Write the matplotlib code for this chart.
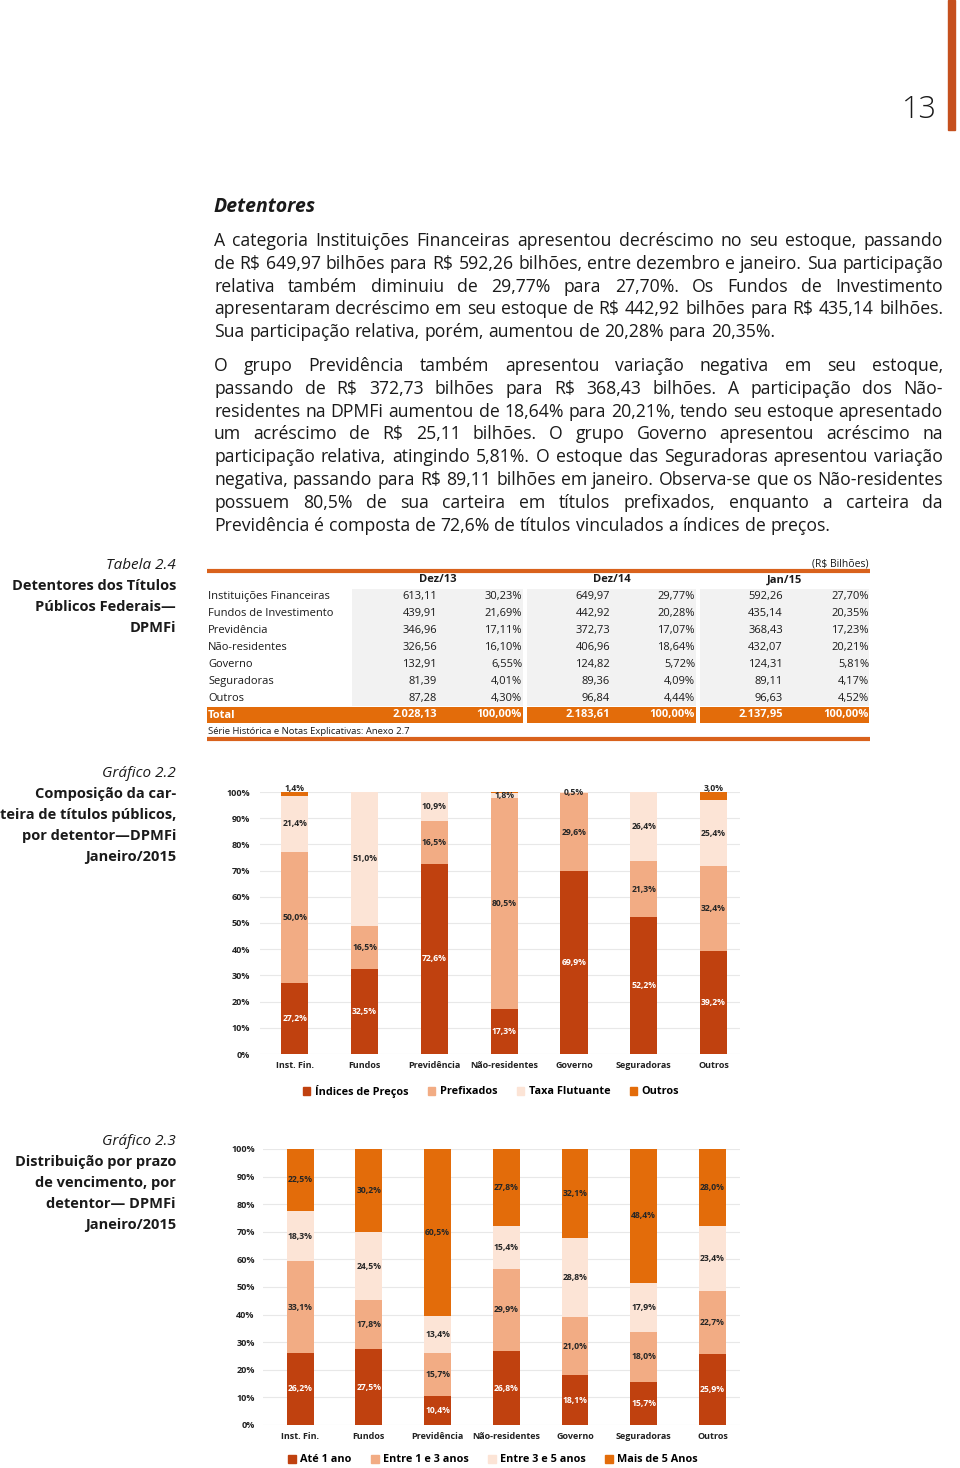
import matplotlib
matplotlib.use('Agg')
import matplotlib.pyplot as plt
import numpy as np
from matplotlib.patches import Rectangle

plt.rcParams['font.family'] = ['Open Sans', 'DejaVu Sans']

TXT = '#1a1a1a'
C_IDX = '#C0410F'
C_PRE = '#F2AC84'
C_FLU = '#FCE4D6'
C_OUT = '#E36C0A'

# ---- texto
par1 = [
    "A categoria Instituições Financeiras apresentou decréscimo no seu estoque, passando",
    "de R$ 649,97 bilhões para R$ 592,26 bilhões, entre dezembro e janeiro. Sua participação",
    "relativa também diminuiu de 29,77% para 27,70%. Os Fundos de Investimento",
    "apresentaram decréscimo em seu estoque de R$ 442,92 bilhões para R$ 435,14 bilhões.",
    "Sua participação relativa, porém, aumentou de 20,28% para 20,35%.",
]
par2 = [
    "O grupo Previdência também apresentou variação negativa em seu estoque,",
    "passando de R$ 372,73 bilhões para R$ 368,43 bilhões. A participação dos Não-",
    "residentes na DPMFi aumentou de 18,64% para 20,21%, tendo seu estoque apresentado",
    "um acréscimo de R$ 25,11 bilhões. O grupo Governo apresentou acréscimo na",
    "participação relativa, atingindo 5,81%. O estoque das Seguradoras apresentou variação",
    "negativa, passando para R$ 89,11 bilhões em janeiro. Observa-se que os Não-residentes",
    "possuem 80,5% de sua carteira em títulos prefixados, enquanto a carteira da",
    "Previdência é composta de 72,6% de títulos vinculados a índices de preços.",
]

# ---- tabela 2.4
detentores = ['Instituições Financeiras', 'Fundos de Investimento', 'Previdência',
              'Não-residentes', 'Governo', 'Seguradoras', 'Outros']
periodos = ['Dez/13', 'Dez/14', 'Jan/15']
val_dez13 = [613.11, 439.91, 346.96, 326.56, 132.91, 81.39, 87.28]
pct_dez13 = [30.23, 21.69, 17.11, 16.10, 6.55, 4.01, 4.30]
val_dez14 = [649.97, 442.92, 372.73, 406.96, 124.82, 89.36, 96.84]
pct_dez14 = [29.77, 20.28, 17.07, 18.64, 5.72, 4.09, 4.44]
val_jan15 = [592.26, 435.14, 368.43, 432.07, 124.31, 89.11, 96.63]
pct_jan15 = [27.70, 20.35, 17.23, 20.21, 5.81, 4.17, 4.52]
totais = [2028.13, 2183.61, 2137.95]

# ---- grafico 2.2
categorias = ['Inst. Fin.', 'Fundos', 'Previdência', 'Não-residentes', 'Governo', 'Seguradoras', 'Outros']
indices = [27.2, 32.5, 72.6, 17.3, 69.9, 52.2, 39.2]
prefixados = [50.0, 16.5, 16.5, 80.5, 29.6, 21.3, 32.4]
flutuante = [21.4, 51.0, 10.9, 1.8, 0.5, 26.4, 25.4]
outros = [1.4, 0.0, 0.0, 0.4, 0.0, 0.0, 3.0]

# ---- grafico 2.3
ate1 = [26.2, 27.5, 10.4, 26.8, 18.1, 15.7, 25.9]
de1a3 = [33.1, 17.8, 15.7, 29.9, 21.0, 18.0, 22.7]
de3a5 = [18.3, 24.5, 13.4, 15.4, 28.8, 17.9, 23.4]
mais5 = [22.5, 30.2, 60.5, 27.8, 32.1, 48.4, 28.0]


def br(v, nd=2):
    s = f"{v:,.{nd}f}"
    return s.replace(',', 'X').replace('.', ',').replace('X', '.')


fig = plt.figure(figsize=(9.6, 14.68), dpi=100)
page = fig.add_axes([0, 0, 1, 1])
page.set_xlim(0, 960)
page.set_ylim(1468, 0)
page.axis('off')
renderer = fig.canvas.get_renderer()

# barra e numero da pagina
page.add_patch(Rectangle((948, 0), 7, 130, color='#C5501E'))
page.text(937, 118, '13', fontsize=22, ha='right', va='baseline', color=TXT, fontweight='light')

page.text(214, 212, 'Detentores', fontsize=14, fontweight='bold', fontstyle='italic',
          va='baseline', color=TXT)

X0, X1 = 214, 943


def words_width(line, size):
    ts = [page.text(0, 0, w, fontsize=size) for w in line.split()]
    w = sum(t.get_window_extent(renderer).width for t in ts)
    for t in ts:
        t.remove()
    return w


# maior corpo de letra em que todas as linhas cabem com espaco normal
SPACE = 0.27
sizes = []
for ln in par1[:-1] + par2[:-1]:
    w10 = words_width(ln, 10) / 10
    n = len(ln.split()) - 1
    sizes.append((X1 - X0) / (w10 + n * SPACE * 1.389))
BODY = min(min(sizes), 13)


def justify(line, y, last=False, size=BODY):
    words = line.split()
    ts = [page.text(0, y, w, fontsize=size, va='baseline', color=TXT) for w in words]
    ws = [t.get_window_extent(renderer).width for t in ts]
    if last:
        gap = size * 1.389 * SPACE
    else:
        gap = (X1 - X0 - sum(ws)) / (len(words) - 1)
    x = X0
    for t, w in zip(ts, ws):
        t.set_x(x)
        x += w + gap


for i, ln in enumerate(par1):
    justify(ln, 246 + i * 22.8, last=(i == len(par1) - 1))
for i, ln in enumerate(par2):
    justify(ln, 371 + i * 22.8, last=(i == len(par2) - 1))


# legendas laterais
def caption(lines, y0):
    page.text(176, y0, lines[0], fontsize=11, fontstyle='italic', ha='right',
              va='baseline', color=TXT)
    for i, ln in enumerate(lines[1:]):
        page.text(176, y0 + 21 * (i + 1), ln, fontsize=10.5, fontweight='bold',
                  ha='right', va='baseline', color=TXT)


caption(['Tabela 2.4', 'Detentores dos Títulos', 'Públicos Federais—', 'DPMFi'], 569)
caption(['Gráfico 2.2', 'Composição da car-', 'teira de títulos públicos,',
         'por detentor—DPMFi', 'Janeiro/2015'], 777)
caption(['Gráfico 2.3', 'Distribuição por prazo', 'de vencimento, por',
         'detentor— DPMFi', 'Janeiro/2015'], 1145)

# ---- tabela
TS = 8
grupos = [(352, 523), (527, 696), (700, 869)]
row_y = [597 + 16.9 * i for i in range(len(detentores))]
for (a, b) in grupos:
    page.add_patch(Rectangle((a, 589), b - a, 117, color='#F2F2F2', lw=0))
page.add_patch(Rectangle((207, 707), 523 - 207, 16, color=C_OUT, lw=0))
for (a, b) in grupos[1:]:
    page.add_patch(Rectangle((a, 707), b - a, 16, color=C_OUT, lw=0))
page.plot([207, 870], [571, 571], color='#D9621C', lw=3, solid_capstyle='butt')
page.plot([207, 870], [739, 739], color='#D9621C', lw=3, solid_capstyle='butt')
page.text(869, 564, '(R$ Bilhões)', fontsize=7.5, ha='right', va='center', color=TXT)
for (a, b), p in zip(grupos, periodos):
    page.text((a + b) / 2, 580, p, fontsize=TS, fontweight='bold', ha='center',
              va='center', color=TXT)
cols = [(437, 522, val_dez13, pct_dez13), (610, 695, val_dez14, pct_dez14),
        (783, 869, val_jan15, pct_jan15)]
for i, nome in enumerate(detentores):
    page.text(208, row_y[i], nome, fontsize=TS, va='center', color=TXT)
    for xv, xp, vals, pcts in cols:
        page.text(xv, row_y[i], br(vals[i]), fontsize=TS, ha='right', va='center', color=TXT)
        page.text(xp, row_y[i], br(pcts[i]) + '%', fontsize=TS, ha='right', va='center', color=TXT)
page.text(208, 715, 'Total', fontsize=TS, fontweight='bold', va='center', color='white')
for (xv, xp, _, _), t in zip(cols, totais):
    page.text(xv, 715, br(t), fontsize=TS, fontweight='bold', ha='right', va='center', color='white')
    page.text(xp, 715, '100,00%', fontsize=TS, fontweight='bold', ha='right', va='center', color='white')
page.text(208, 731, 'Série Histórica e Notas Explicativas: Anexo 2.7', fontsize=6.8,
          va='center', color=TXT)


def stacked(rect, series, colors, text_colors, xlim, pad, top_labels=False):
    ax = fig.add_axes(rect)
    x = np.arange(len(categorias))
    bottom = np.zeros(len(categorias))
    for k, (vals, c, tc) in enumerate(zip(series, colors, text_colors)):
        vals = np.array(vals)
        ax.bar(x, vals, 0.39, bottom=bottom, color=c, zorder=3)
        for xi, b, v in zip(x, bottom, vals):
            if v >= 0.5:
                yl = b + v / 2
                if top_labels and k == len(series) - 1:
                    yl = 101.5
                ax.text(xi, yl, br(v, 1) + '%', ha='center', va='center',
                        fontsize=6.2, fontweight='bold', color=tc, zorder=4)
        bottom += vals
    ax.set_ylim(0, 100)
    ax.set_xlim(*xlim)
    ax.set_yticks(np.arange(0, 101, 10))
    ax.set_yticklabels([f'{v}%' for v in range(0, 101, 10)])
    ax.set_xticks(x)
    ax.set_xticklabels(categorias)
    ax.grid(axis='y', color='#E8E8E8', lw=0.8, zorder=0)
    for s in ax.spines.values():
        s.set_visible(False)
    ax.tick_params(length=0, labelsize=6.5, labelcolor='#222222')
    ax.tick_params(axis='y', pad=pad)
    ax.tick_params(axis='x', pad=5)
    for lab in ax.get_xticklabels() + ax.get_yticklabels():
        lab.set_fontweight('bold')
    return ax


def leg(labels, colors, xc, yc):
    handles = [Rectangle((0, 0), 1, 1, color=c) for c in colors]
    fig.legend(handles, labels, loc='center', bbox_to_anchor=(xc / 960, 1 - yc / 1468),
               ncol=4, frameon=False, handlelength=0.7, handleheight=0.7,
               handletextpad=0.4, columnspacing=1.8,
               prop={'size': 7.8, 'weight': 'bold'})


stacked([260 / 960, 1 - 1054 / 1468, 480 / 960, 262 / 1468],
        [indices, prefixados, flutuante, outros],
        [C_IDX, C_PRE, C_FLU, C_OUT],
        ['white', '#262626', '#262626', '#262626'],
        (-0.5, 6.38), 7, top_labels=True)
leg(['Índices de Preços', 'Prefixados', 'Taxa Flutuante', 'Outros'],
    [C_IDX, C_PRE, C_FLU, C_OUT], 491, 1091)

stacked([263 / 960, 1 - 1425 / 1468, 477 / 960, 276 / 1468],
        [ate1, de1a3, de3a5, mais5],
        [C_IDX, C_PRE, C_FLU, C_OUT],
        ['white', '#262626', '#262626', '#262626'],
        (-0.54, 6.4), 6)
leg(['Até 1 ano', 'Entre 1 e 3 anos', 'Entre 3 e 5 anos', 'Mais de 5 Anos'],
    [C_IDX, C_PRE, C_FLU, C_OUT], 493, 1460)

fig.savefig('out.png', dpi=100)
